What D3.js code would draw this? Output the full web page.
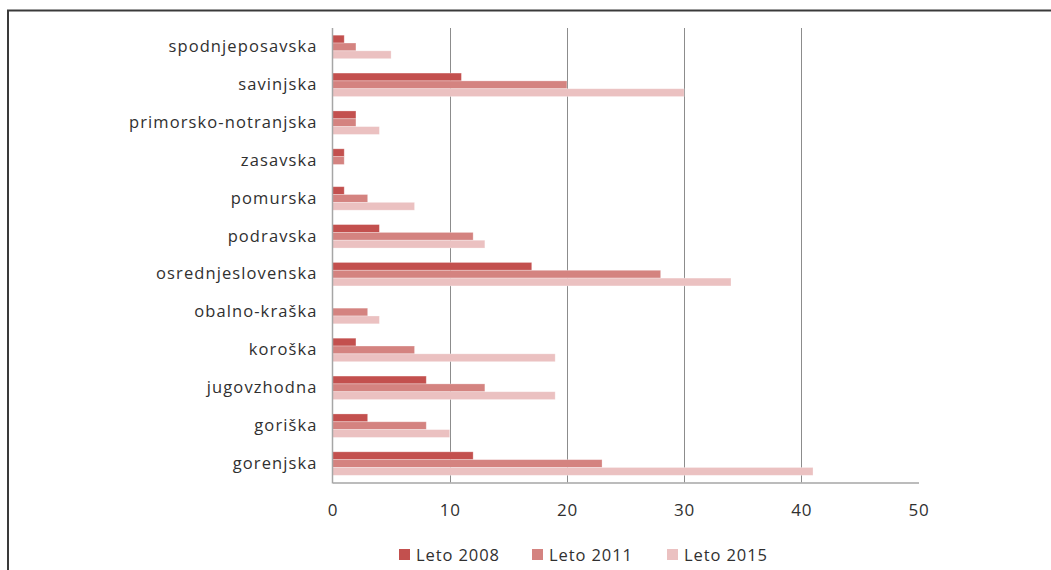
<!DOCTYPE html>
<html><head><meta charset="utf-8">
<script src="https://cdn.jsdelivr.net/npm/d3@7"></script>
<style>
body{margin:0;background:#fff;}
svg{display:block;}
text{font-family:"Open Sans","Noto Sans",sans-serif;fill:#303030;}
</style></head>
<body><svg id="c" width="1051" height="570"></svg>
<script>
const categories = ["spodnjeposavska","savinjska","primorsko-notranjska","zasavska","pomurska","podravska","osrednjeslovenska","obalno-kraška","koroška","jugovzhodna","goriška","gorenjska"];
const seriesNames = ["Leto 2008","Leto 2011","Leto 2015"];
const leto2008 = [1,11,2,1,1,4,17,0,2,8,3,12];
const leto2011 = [2,20,2,1,3,12,28,3,7,13,8,23];
const leto2015 = [5,30,4,0,7,13,34,4,19,19,10,41];
const xTicks = [0,10,20,30,40,50];
const colors = ["#c3504e","#d48380","#ebc1c1"];

const series = [leto2008, leto2011, leto2015];
const svg = d3.select("#c");

// frame
svg.append("path").attr("d","M8,570 V10.5 H1051").attr("fill","none").attr("stroke","#3a3a3a").attr("stroke-width",2);

const m = {left:332.5, right:918.5, top:28, bottom:482.5};
const x = d3.scaleLinear().domain([0,50]).range([m.left, m.right]);
const y = d3.scaleBand().domain(categories).range([m.top, m.bottom]).paddingInner(0.38).paddingOuter(0.19);
const y1 = d3.scaleBand().domain(d3.range(3)).range([0, y.bandwidth()]);

// gridlines
svg.append("g").selectAll("line").data(xTicks.filter(t=>t>0 && t<50)).join("line")
  .attr("x1",d=>Math.round(x(d))+0.5).attr("x2",d=>Math.round(x(d))+0.5)
  .attr("y1",m.top).attr("y2",m.bottom).attr("stroke","#8c8c8c").attr("stroke-width",1);

// bars
const g = svg.append("g");
categories.forEach((c,i)=>{
  series.forEach((s,j)=>{
    if (s[i] > 0) g.append("rect")
      .attr("x", x(0)).attr("y", y(c)+y1(j))
      .attr("width", x(s[i])-x(0)).attr("height", y1.bandwidth())
      .attr("fill", colors[j]).attr("stroke","#ffffff").attr("stroke-opacity",0.35).attr("stroke-width",0.8);
  });
});

// axes
const xAxis = d3.axisBottom(x).tickValues(xTicks).tickSize(0);
const ax = svg.append("g").attr("transform",`translate(0,${m.bottom})`).call(xAxis);
ax.select(".domain").attr("stroke","#a6a6a6").attr("stroke-width",1.5);
ax.selectAll("text").attr("font-size",17).attr("y",27.5).attr("dy","0.35em")
  .style("letter-spacing","0.8px").style("fill","#303030");

svg.append("line").attr("x1",m.left).attr("x2",m.left).attr("y1",m.top).attr("y2",m.bottom+1)
  .attr("stroke","#a6a6a6").attr("stroke-width",1.5);

const yAxis = d3.axisLeft(y).tickSize(0).tickPadding(15);
const ay = svg.append("g").attr("transform",`translate(${m.left},0)`).call(yAxis);
ay.select(".domain").remove();
ay.selectAll("text").attr("font-size",16.5).style("letter-spacing","1.1px").style("fill","#303030");

// legend
const legX = [399, 532, 667];
const lg = svg.append("g");
seriesNames.forEach((n,i)=>{
  lg.append("rect").attr("x",legX[i]).attr("y",549).attr("width",11).attr("height",11).attr("fill",colors[i]);
  lg.append("text").attr("x",legX[i]+17).attr("y",555).attr("dy","0.35em").attr("font-size",16.5)
    .style("letter-spacing","0.9px").text(n);
});
</script></body></html>
